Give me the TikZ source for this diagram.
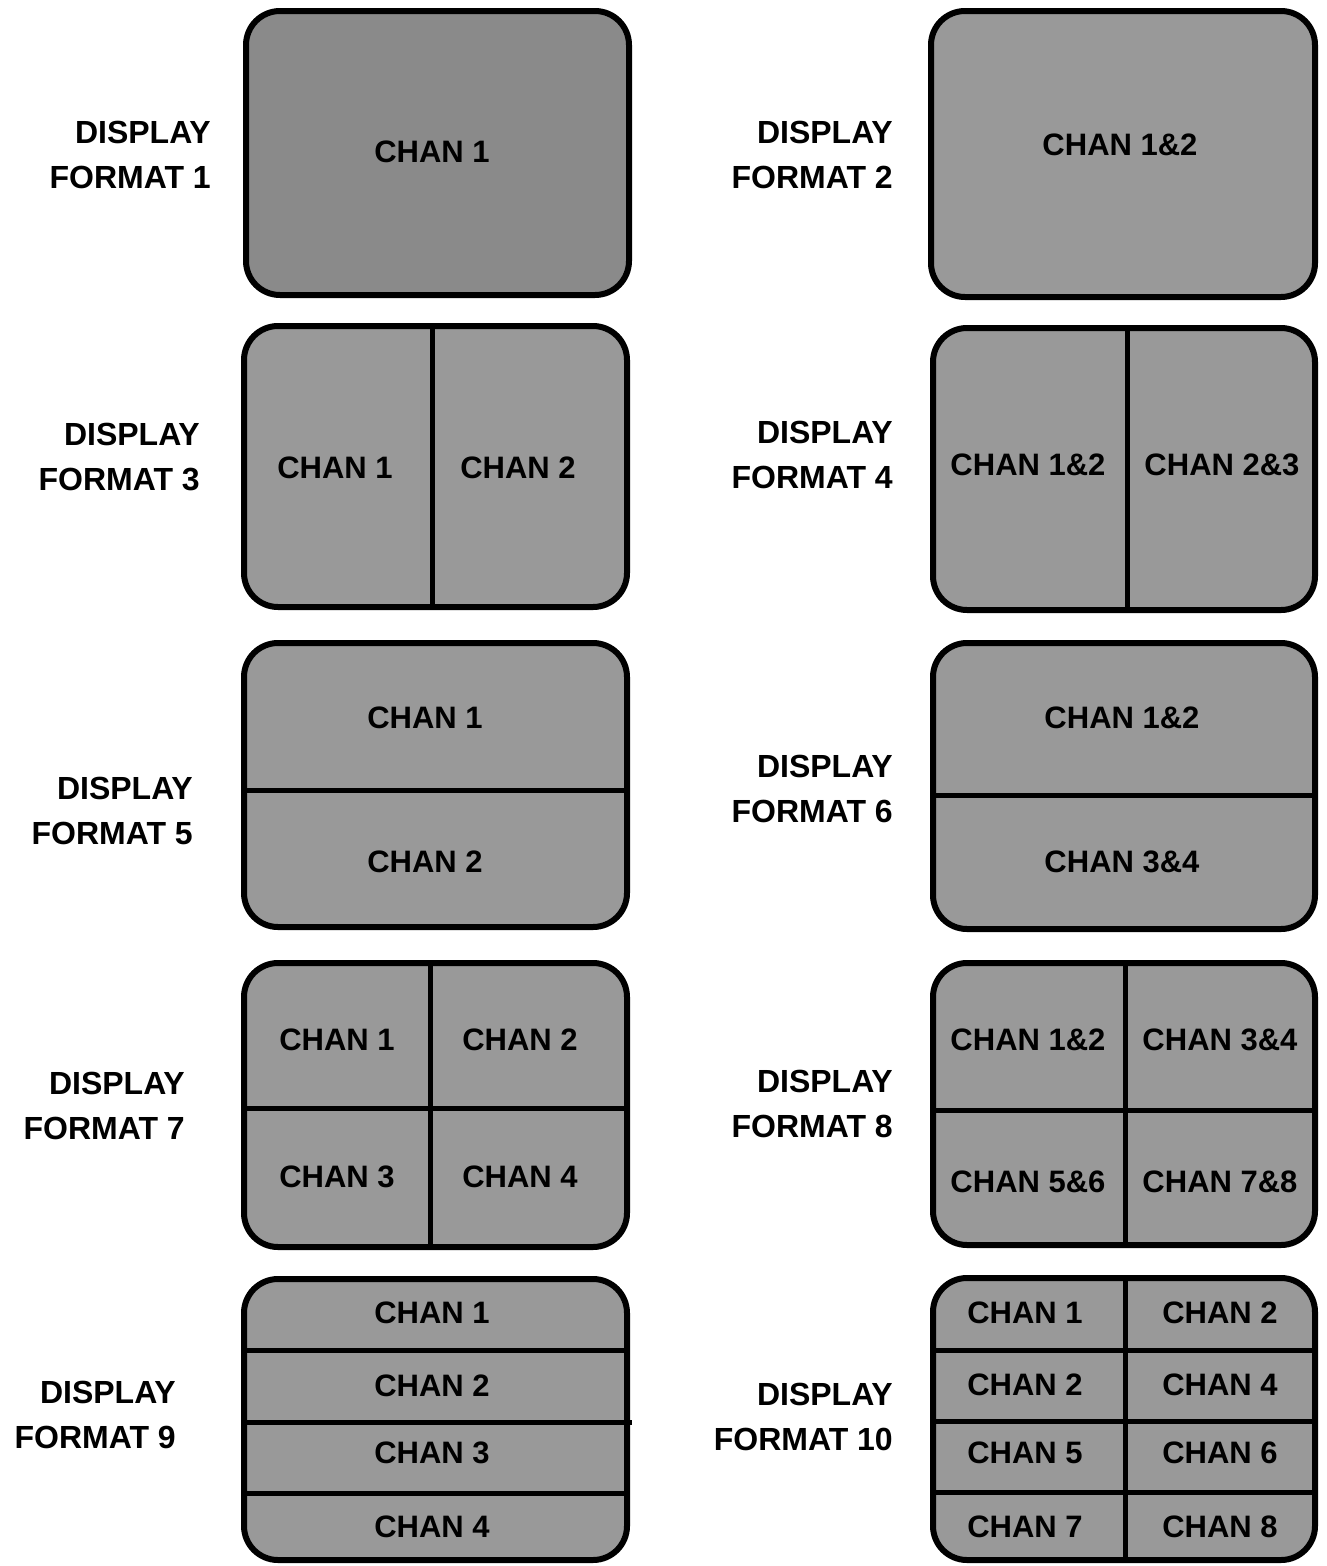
\documentclass[tikz,border=0pt]{standalone}
\usepackage{fontspec}
\setmainfont{Liberation Sans}
\begin{document}
\begin{tikzpicture}[x=1pt,y=-1pt,
  screen/.style={draw=black,line width=6pt,rounded corners=34pt,fill=black!40,
    rectangle,inner sep=0pt,outer sep=0pt},
  divider/.style={draw=black,line width=5pt},
  lbl/.style={font=\fontsize{32}{45}\selectfont\bfseries,align=right,inner sep=0pt,anchor=east},
  chan/.style={font=\fontsize{31}{36}\selectfont\bfseries,inner sep=0pt}]
\useasboundingbox (0,0) rectangle (1327,1566);
% screens
\node[screen,minimum width=383pt,minimum height=284pt,fill=black!46] (f1) at (437.5,153) {};
\node[screen,minimum width=384pt,minimum height=286pt] (f2) at (1123,154) {};
\node[screen,minimum width=383pt,minimum height=281pt] (f3) at (435.5,466.5) {};
\node[screen,minimum width=382pt,minimum height=282pt] (f4) at (1124,469) {};
\node[screen,minimum width=383pt,minimum height=284pt] (f5) at (435.5,785) {};
\node[screen,minimum width=382pt,minimum height=286pt] (f6) at (1124,786) {};
\node[screen,minimum width=383pt,minimum height=284pt] (f7) at (435.5,1105) {};
\node[screen,minimum width=382pt,minimum height=282pt] (f8) at (1124,1104) {};
\node[screen,minimum width=383pt,minimum height=281pt] (f9) at (435.5,1419.5) {};
\node[screen,minimum width=382pt,minimum height=282pt] (f10) at (1124,1419) {};
% dividers
\draw[divider] (432,326) -- (432,607);
\draw[divider] (1127,328) -- (1127,610);
\draw[divider] (244,790) -- (627,790);
\draw[divider] (933,795) -- (1315,795);
\draw[divider] (430,963) -- (430,1247);
\draw[divider] (244,1108) -- (627,1108);
\draw[divider] (1125,963) -- (1125,1245);
\draw[divider] (933,1110) -- (1315,1110);
\draw[divider] (244,1350) -- (627,1350);
\draw[divider] (244,1422) -- (632,1422);
\draw[divider] (244,1493) -- (627,1493);
\draw[divider] (1125,1278) -- (1125,1560);
\draw[divider] (933,1350) -- (1315,1350);
\draw[divider] (933,1421) -- (1315,1421);
\draw[divider] (933,1492) -- (1315,1492);
% channel texts
\node[chan] (t1) at (432,152) {CHAN 1};
\node[chan] (t2) at (1120,145) {CHAN 1\&2};
\node[chan] (t3a) at (335,468) {CHAN 1};
\node[chan] (t3b) at (518,468) {CHAN 2};
\node[chan] (t4a) at (1028,465) {CHAN 1\&2};
\node[chan] (t4b) at (1222,465) {CHAN 2\&3};
\node[chan] (t5a) at (425,718) {CHAN 1};
\node[chan] (t5b) at (425,862) {CHAN 2};
\node[chan] (t6a) at (1122,718) {CHAN 1\&2};
\node[chan] (t6b) at (1122,862) {CHAN 3\&4};
\node[chan] (t7a) at (337,1040) {CHAN 1};
\node[chan] (t7b) at (520,1040) {CHAN 2};
\node[chan] (t7c) at (337,1177) {CHAN 3};
\node[chan] (t7d) at (520,1177) {CHAN 4};
\node[chan] (t8a) at (1028,1040) {CHAN 1\&2};
\node[chan] (t8b) at (1220,1040) {CHAN 3\&4};
\node[chan] (t8c) at (1028,1182) {CHAN 5\&6};
\node[chan] (t8d) at (1220,1182) {CHAN 7\&8};
\node[chan] (t9a) at (432,1313) {CHAN 1};
\node[chan] (t9b) at (432,1386) {CHAN 2};
\node[chan] (t9c) at (432,1453) {CHAN 3};
\node[chan] (t9d) at (432,1527) {CHAN 4};
\node[chan] (t10a) at (1025,1313) {CHAN 1};
\node[chan] (t10b) at (1220,1313) {CHAN 2};
\node[chan] (t10c) at (1025,1385) {CHAN 2};
\node[chan] (t10d) at (1220,1385) {CHAN 4};
\node[chan] (t10e) at (1025,1453) {CHAN 5};
\node[chan] (t10f) at (1220,1453) {CHAN 6};
\node[chan] (t10g) at (1025,1527) {CHAN 7};
\node[chan] (t10h) at (1220,1527) {CHAN 8};
% labels
\node[lbl] (l1) at (211,155) {DISPLAY\\FORMAT 1};
\node[lbl] (l2) at (893,155) {DISPLAY\\FORMAT 2};
\node[lbl] (l3) at (200,457) {DISPLAY\\FORMAT 3};
\node[lbl] (l4) at (893,455) {DISPLAY\\FORMAT 4};
\node[lbl] (l5) at (193,811) {DISPLAY\\FORMAT 5};
\node[lbl] (l6) at (893,789) {DISPLAY\\FORMAT 6};
\node[lbl] (l7) at (185,1106) {DISPLAY\\FORMAT 7};
\node[lbl] (l8) at (893,1104) {DISPLAY\\FORMAT 8};
\node[lbl] (l9) at (176,1415) {DISPLAY\\FORMAT 9};
\node[lbl] (l10) at (893,1417) {DISPLAY\\FORMAT 10};
\end{tikzpicture}
\end{document}
